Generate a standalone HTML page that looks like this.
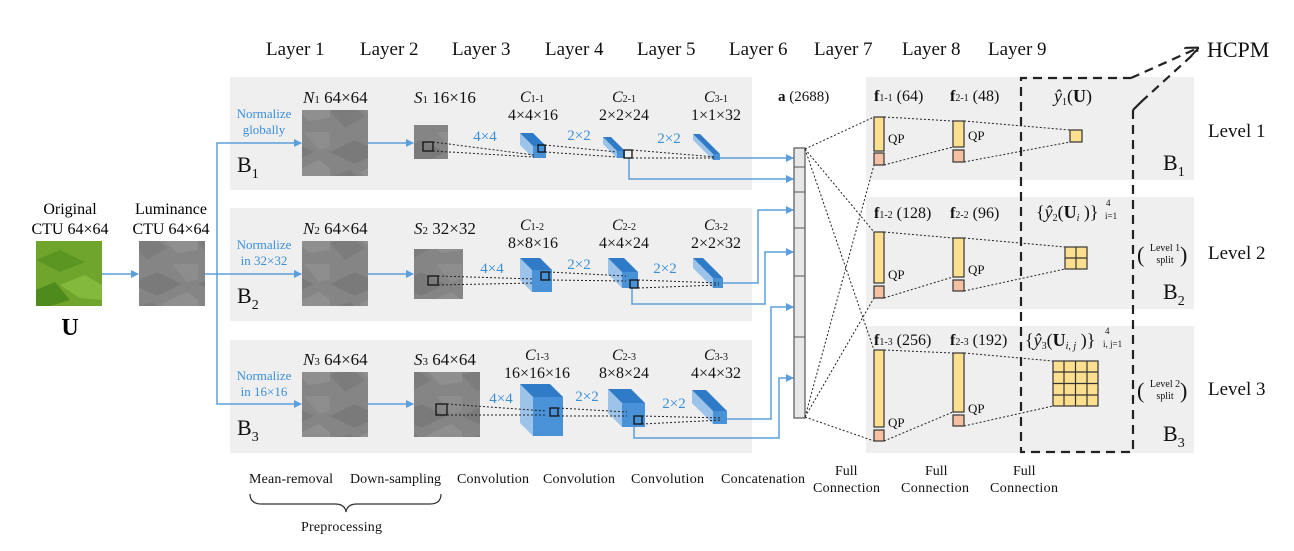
<!DOCTYPE html>
<html><head><meta charset="utf-8"><style>
html,body{margin:0;padding:0;background:#fff;}
svg{display:block;font-family:"Liberation Serif",serif;}
</style></head><body>
<svg width="1294" height="551" viewBox="0 0 1294 551" xmlns="http://www.w3.org/2000/svg">
<defs>
<marker id="ar" markerWidth="8" markerHeight="8" refX="7" refY="4" orient="auto" markerUnits="userSpaceOnUse"><path d="M0,0 L8,4 L0,8 z" fill="#5b9fdc"/></marker>
<marker id="ak" markerWidth="14" markerHeight="12" refX="13" refY="6" orient="auto" markerUnits="userSpaceOnUse"><path d="M0,0 L14,6 L0,12" fill="none" stroke="#222" stroke-width="2"/></marker>
<pattern id="gp" width="66" height="66" patternUnits="userSpaceOnUse">
<rect width="66" height="66" fill="#858585"/>
<polygon points="0,20 25,8 50,20 25,32" fill="#7a7a7a"/>
<polygon points="30,40 55,28 66,36 66,52 45,55" fill="#8f8f8f"/>
<polygon points="0,45 20,38 35,50 15,62" fill="#7c7c7c"/>
<polygon points="40,0 66,0 66,15 55,18" fill="#8d8d8d"/>
</pattern>
</defs>

<rect x="230" y="77" width="522" height="113" fill="#efefef"/>
<rect x="230" y="208" width="522" height="113" fill="#efefef"/>
<rect x="230" y="340" width="522" height="113" fill="#efefef"/>
<rect x="866" y="77" width="328" height="103" fill="#efefef"/>
<rect x="866" y="197" width="328" height="112" fill="#efefef"/>
<rect x="866" y="326" width="328" height="127" fill="#efefef"/>

<g font-size="19" fill="#111">
<text x="266" y="55">Layer 1</text><text x="360" y="55">Layer 2</text><text x="452" y="55">Layer 3</text>
<text x="545" y="55">Layer 4</text><text x="637" y="55">Layer 5</text><text x="729" y="55">Layer 6</text>
<text x="814" y="55">Layer 7</text><text x="902" y="55">Layer 8</text><text x="988" y="55">Layer 9</text>
<text x="1207" y="57" font-size="22">HCPM</text>
</g>

<text x="70" y="214" font-size="16" text-anchor="middle">Original</text>
<text x="70" y="234" font-size="16" text-anchor="middle">CTU 64×64</text>
<text x="171" y="214" font-size="16" text-anchor="middle">Luminance</text>
<text x="171" y="234" font-size="16" text-anchor="middle">CTU 64×64</text>
<rect x="36" y="241" width="66" height="65" fill="#6fa52c"/>
<polygon points="36,260 60,250 85,262 60,272" fill="#5c9622"/>
<polygon points="60,285 85,275 102,285 102,300 80,298" fill="#83b93c"/>
<polygon points="36,290 55,282 70,300 50,306 36,306" fill="#4f8a1c"/>
<rect x="139" y="241" width="66" height="65" fill="url(#gp)"/>
<text x="70" y="335" font-size="24" font-weight="bold" text-anchor="middle">U</text>

<g stroke="#5b9fdc" stroke-width="1.5" fill="none">
<line x1="102" y1="274" x2="138" y2="274" marker-end="url(#ar)"/>
<line x1="205" y1="274" x2="301" y2="274" marker-end="url(#ar)"/>
<polyline points="217,274 217,143 301,143" marker-end="url(#ar)"/>
<polyline points="217,274 217,404 301,404" marker-end="url(#ar)"/>
<line x1="368" y1="143" x2="413" y2="143" marker-end="url(#ar)"/>
<line x1="368" y1="274" x2="413" y2="274" marker-end="url(#ar)"/>
<line x1="368" y1="404" x2="413" y2="404" marker-end="url(#ar)"/>
<line x1="720" y1="158" x2="793" y2="158" marker-end="url(#ar)"/>
<polyline points="629,158 629,179 793,179" marker-end="url(#ar)"/>
<polyline points="723,283 758,283 758,210 793,210" marker-end="url(#ar)"/>
<polyline points="632,288 632,304 765,304 765,252 793,252" marker-end="url(#ar)"/>
<polyline points="727,419 771,419 771,307 793,307" marker-end="url(#ar)"/>
<polyline points="634,426 634,438 779,438 779,378 793,378" marker-end="url(#ar)"/>
</g>

<g font-size="13" fill="#3b8fd8" text-anchor="middle">
<text x="264" y="118">Normalize</text><text x="264" y="134">globally</text>
<text x="264" y="249">Normalize</text><text x="264" y="265">in 32×32</text>
<text x="264" y="380">Normalize</text><text x="264" y="396">in 16×16</text>
</g>

<g font-size="22" fill="#111">
<text x="237" y="172">B<tspan font-size="14" dy="6">1</tspan></text>
<text x="237" y="303">B<tspan font-size="14" dy="6">2</tspan></text>
<text x="237" y="435">B<tspan font-size="14" dy="6">3</tspan></text>
<text x="1163" y="170">B<tspan font-size="14" dy="6">1</tspan></text>
<text x="1163" y="299">B<tspan font-size="14" dy="6">2</tspan></text>
<text x="1163" y="441">B<tspan font-size="14" dy="6">3</tspan></text>
</g>

<g font-size="17" fill="#111">
<text x="303" y="103"><tspan font-style="italic">N</tspan><tspan font-size="11">1</tspan> 64×64</text>
<text x="303" y="234"><tspan font-style="italic">N</tspan><tspan font-size="11">2</tspan> 64×64</text>
<text x="303" y="365"><tspan font-style="italic">N</tspan><tspan font-size="11">3</tspan> 64×64</text>
<text x="414" y="103"><tspan font-style="italic">S</tspan><tspan font-size="11">1</tspan> 16×16</text>
<text x="414" y="234"><tspan font-style="italic">S</tspan><tspan font-size="11">2</tspan> 32×32</text>
<text x="414" y="365"><tspan font-style="italic">S</tspan><tspan font-size="11">3</tspan> 64×64</text>
</g>
<rect x="302" y="110" width="66" height="66" fill="url(#gp)"/>
<rect x="302" y="241" width="66" height="65" fill="url(#gp)"/>
<rect x="302" y="372" width="66" height="65" fill="url(#gp)"/>
<rect x="414" y="125" width="34" height="34" fill="url(#gp)"/>
<rect x="414" y="249" width="49" height="50" fill="url(#gp)"/>
<rect x="414" y="372" width="66" height="65" fill="url(#gp)"/>

<g>
<polygon points="533,146 520,133 520,145 533,158" fill="#9cc3ea"/><polygon points="533,146 546,146 533,133 520,133" fill="#2f7bc8"/><rect x="533" y="146" width="13" height="12" fill="#4a92d8"/>
<polygon points="617,151 603,137 603,144 617,158" fill="#9cc3ea"/><polygon points="617,151 625,151 611,137 603,137" fill="#2f7bc8"/><rect x="617" y="151" width="8" height="7" fill="#4a92d8"/>
<polygon points="713,154 693,134 693,140 713,160" fill="#9cc3ea"/><polygon points="713,154 720,154 700,134 693,134" fill="#2f7bc8"/><rect x="713" y="154" width="7" height="6" fill="#4a92d8"/>
<polygon points="532,270 520,258 520,280 532,292" fill="#9cc3ea"/><polygon points="532,270 552,270 540,258 520,258" fill="#2f7bc8"/><rect x="532" y="270" width="20" height="22" fill="#4a92d8"/>
<polygon points="622,272 608,258 608,274 622,288" fill="#9cc3ea"/><polygon points="622,272 638,272 624,258 608,258" fill="#2f7bc8"/><rect x="622" y="272" width="16" height="16" fill="#4a92d8"/>
<polygon points="713,278 693,258 693,268 713,288" fill="#9cc3ea"/><polygon points="713,278 723,278 703,258 693,258" fill="#2f7bc8"/><rect x="713" y="278" width="10" height="10" fill="#4a92d8"/>
<polygon points="533,397 520,384 520,423 533,436" fill="#9cc3ea"/><polygon points="533,397 563,397 550,384 520,384" fill="#2f7bc8"/><rect x="533" y="397" width="30" height="39" fill="#4a92d8"/>
<polygon points="622,403 608,389 608,413 622,427" fill="#9cc3ea"/><polygon points="622,403 645,403 631,389 608,389" fill="#2f7bc8"/><rect x="622" y="403" width="23" height="24" fill="#4a92d8"/>
<polygon points="713,411 692,390 692,403 713,424" fill="#9cc3ea"/><polygon points="713,411 727,411 706,390 692,390" fill="#2f7bc8"/><rect x="713" y="411" width="14" height="13" fill="#4a92d8"/>
</g>

<g fill="none" stroke="#111" stroke-width="1.3">
<rect x="423" y="142" width="10" height="9"/><rect x="538" y="145" width="7" height="7"/><rect x="624" y="150" width="8" height="8"/>
<rect x="428" y="276" width="10" height="9"/><rect x="541" y="272" width="8" height="8"/><rect x="630" y="280" width="8" height="8"/>
<rect x="436" y="404" width="11" height="11"/><rect x="550" y="408" width="8" height="8"/><rect x="634" y="416" width="8" height="8"/>
</g>
<g stroke="#222" stroke-width="1" stroke-dasharray="2,2" fill="none">
<line x1="433" y1="142" x2="534" y2="155"/><line x1="433" y1="151" x2="534" y2="157"/>
<line x1="545" y1="145" x2="617" y2="152"/><line x1="545" y1="152" x2="617" y2="157"/>
<line x1="632" y1="150" x2="716" y2="157"/><line x1="632" y1="158" x2="716" y2="158"/>
<line x1="438" y1="276" x2="534" y2="279"/><line x1="438" y1="285" x2="534" y2="283"/>
<line x1="549" y1="272" x2="626" y2="276"/><line x1="549" y1="280" x2="626" y2="281"/>
<line x1="638" y1="280" x2="719" y2="283"/><line x1="638" y1="288" x2="719" y2="285"/>
<line x1="447" y1="404" x2="546" y2="411"/><line x1="447" y1="415" x2="546" y2="415"/>
<line x1="558" y1="408" x2="627" y2="412"/><line x1="558" y1="416" x2="627" y2="416"/>
<line x1="642" y1="416" x2="722" y2="418"/><line x1="642" y1="424" x2="722" y2="420"/>
</g>

<g font-size="16" fill="#111" text-anchor="middle">
<text x="532" y="102"><tspan font-style="italic">C</tspan><tspan font-size="10">1-1</tspan></text><text x="533" y="120">4×4×16</text>
<text x="624" y="102"><tspan font-style="italic">C</tspan><tspan font-size="10">2-1</tspan></text><text x="624" y="120">2×2×24</text>
<text x="716" y="102"><tspan font-style="italic">C</tspan><tspan font-size="10">3-1</tspan></text><text x="716" y="120">1×1×32</text>
<text x="532" y="230"><tspan font-style="italic">C</tspan><tspan font-size="10">1-2</tspan></text><text x="533" y="248">8×8×16</text>
<text x="624" y="230"><tspan font-style="italic">C</tspan><tspan font-size="10">2-2</tspan></text><text x="624" y="248">4×4×24</text>
<text x="716" y="230"><tspan font-style="italic">C</tspan><tspan font-size="10">3-2</tspan></text><text x="716" y="248">2×2×32</text>
<text x="537" y="360"><tspan font-style="italic">C</tspan><tspan font-size="10">1-3</tspan></text><text x="537" y="378">16×16×16</text>
<text x="624" y="360"><tspan font-style="italic">C</tspan><tspan font-size="10">2-3</tspan></text><text x="624" y="378">8×8×24</text>
<text x="716" y="360"><tspan font-style="italic">C</tspan><tspan font-size="10">3-3</tspan></text><text x="716" y="378">4×4×32</text>
</g>
<text x="778" y="101" font-size="15" fill="#111"><tspan font-weight="bold">a</tspan> (2688)</text>
<g font-size="15" fill="#3b8fd8" text-anchor="middle">
<text x="485" y="141">4×4</text><text x="579" y="140">2×2</text><text x="669" y="143">2×2</text>
<text x="492" y="273">4×4</text><text x="579" y="269">2×2</text><text x="665" y="273">2×2</text>
<text x="501" y="403">4×4</text><text x="587" y="401">2×2</text><text x="674" y="408">2×2</text>
</g>

<rect x="794" y="148" width="11" height="270" fill="#e8e8e8" stroke="#555" stroke-width="1.2"/>
<g stroke="#555" stroke-width="1"><line x1="794" y1="167" x2="805" y2="167"/><line x1="794" y1="192" x2="805" y2="192"/><line x1="794" y1="228" x2="805" y2="228"/><line x1="794" y1="276" x2="805" y2="276"/><line x1="794" y1="337" x2="805" y2="337"/></g>

<g stroke="#222" stroke-width="1" stroke-dasharray="2,2" fill="none">
<line x1="805" y1="149" x2="874" y2="117"/><line x1="805" y1="149" x2="874" y2="232"/><line x1="805" y1="149" x2="874" y2="350"/>
<line x1="805" y1="417" x2="874" y2="165"/><line x1="805" y1="417" x2="874" y2="298"/><line x1="805" y1="417" x2="874" y2="441"/>
<line x1="884" y1="117" x2="953" y2="121"/><line x1="884" y1="165" x2="953" y2="147"/>
<line x1="964" y1="121" x2="1070" y2="130"/><line x1="964" y1="162" x2="1070" y2="142"/>
<line x1="884" y1="232" x2="953" y2="238"/><line x1="884" y1="298" x2="953" y2="277"/>
<line x1="964" y1="238" x2="1065" y2="247"/><line x1="964" y1="291" x2="1065" y2="269"/>
<line x1="884" y1="350" x2="953" y2="353"/><line x1="884" y1="441" x2="953" y2="412"/>
<line x1="964" y1="353" x2="1053" y2="361"/><line x1="964" y1="426" x2="1053" y2="406"/>
</g>

<g stroke="#333" stroke-width="1.2">
<rect x="874" y="117" width="10" height="34" fill="#fde08f"/><rect x="874" y="153" width="10" height="12" fill="#f6c1a3"/>
<rect x="953" y="121" width="11" height="26" fill="#fde08f"/><rect x="953" y="150" width="11" height="12" fill="#f6c1a3"/>
<rect x="1070" y="130" width="12" height="12" fill="#fde08f"/>
<rect x="874" y="232" width="10" height="51" fill="#fde08f"/><rect x="874" y="286" width="10" height="12" fill="#f6c1a3"/>
<rect x="953" y="238" width="11" height="39" fill="#fde08f"/><rect x="953" y="280" width="11" height="11" fill="#f6c1a3"/>
<rect x="874" y="350" width="10" height="77" fill="#fde08f"/><rect x="874" y="430" width="10" height="11" fill="#f6c1a3"/>
<rect x="953" y="353" width="11" height="59" fill="#fde08f"/><rect x="953" y="415" width="11" height="11" fill="#f6c1a3"/>
<rect x="1065" y="247" width="22" height="22" fill="#fde08f"/>
<line x1="1076" y1="247" x2="1076" y2="269"/><line x1="1065" y1="258" x2="1087" y2="258"/>
<rect x="1053" y="361" width="45" height="45" fill="#fde08f"/>
<line x1="1064" y1="361" x2="1064" y2="406"/><line x1="1075.5" y1="361" x2="1075.5" y2="406"/><line x1="1087" y1="361" x2="1087" y2="406"/>
<line x1="1053" y1="372" x2="1098" y2="372"/><line x1="1053" y1="383.5" x2="1098" y2="383.5"/><line x1="1053" y1="395" x2="1098" y2="395"/>
</g>
<g font-size="13" fill="#111">
<text x="888" y="143">QP</text><text x="968" y="140">QP</text>
<text x="888" y="279">QP</text><text x="968" y="274">QP</text>
<text x="888" y="427">QP</text><text x="968" y="413">QP</text>
</g>
<g font-size="16" fill="#111">
<text x="874" y="101"><tspan font-weight="bold">f</tspan><tspan font-size="10">1-1</tspan> (64)</text>
<text x="950" y="101"><tspan font-weight="bold">f</tspan><tspan font-size="10">2-1</tspan> (48)</text>
<text x="874" y="218"><tspan font-weight="bold">f</tspan><tspan font-size="10">1-2</tspan> (128)</text>
<text x="950" y="218"><tspan font-weight="bold">f</tspan><tspan font-size="10">2-2</tspan> (96)</text>
<text x="874" y="345"><tspan font-weight="bold">f</tspan><tspan font-size="10">1-3</tspan> (256)</text>
<text x="950" y="345"><tspan font-weight="bold">f</tspan><tspan font-size="10">2-3</tspan> (192)</text>
</g>
<g font-size="18" fill="#111">
<text x="1054" y="102"><tspan font-style="italic">ŷ</tspan><tspan font-size="10" dy="3">1</tspan><tspan dy="-3">(</tspan><tspan font-weight="bold">U</tspan>)</text>
<text x="1036" y="218">{<tspan font-style="italic">ŷ</tspan><tspan font-size="10" dy="3">2</tspan><tspan dy="-3">(</tspan><tspan font-weight="bold">U</tspan><tspan font-size="10" font-style="italic" dy="3">i</tspan><tspan dy="-3"> )}</tspan></text>
<text x="1025" y="346">{<tspan font-style="italic">ŷ</tspan><tspan font-size="10" dy="3">3</tspan><tspan dy="-3">(</tspan><tspan font-weight="bold">U</tspan><tspan font-size="10" font-style="italic" dy="3">i, j</tspan><tspan dy="-3"> )}</tspan></text>
</g>
<g font-size="9" fill="#111">
<text x="1106" y="206">4</text><text x="1105" y="219">i=1</text>
<text x="1105" y="334">4</text><text x="1103" y="347">i, j=1</text>
</g>

<g font-size="19" fill="#111">
<text x="1208" y="137">Level 1</text><text x="1208" y="259">Level 2</text><text x="1208" y="395">Level 3</text>
</g>
<g fill="#111">
<text x="1137" y="262" font-size="22">(</text><text x="1180" y="262" font-size="22">)</text>
<text x="1165" y="251" font-size="10" text-anchor="middle">Level 1</text><text x="1165" y="263" font-size="10" text-anchor="middle">split</text>
<text x="1137" y="398" font-size="22">(</text><text x="1180" y="398" font-size="22">)</text>
<text x="1165" y="387" font-size="10" text-anchor="middle">Level 2</text><text x="1165" y="399" font-size="10" text-anchor="middle">split</text>
</g>

<g stroke="#222" stroke-width="2.2" stroke-dasharray="9,6" fill="none">
<polyline points="1133,110 1133,452 1021,452 1021,78 1131,78"/>
<line x1="1131" y1="78" x2="1198" y2="48" marker-end="url(#ak)"/>
<line x1="1141" y1="102" x2="1198" y2="50"/>
</g>
<line x1="1133" y1="110" x2="1141" y2="102" stroke="#222" stroke-width="2.2"/>

<g font-size="14" fill="#111">
<text x="249" y="483" textLength="84">Mean-removal</text>
<text x="350" y="483" textLength="91">Down-sampling</text>
<text x="457" y="483" textLength="72">Convolution</text>
<text x="543" y="483" textLength="72">Convolution</text>
<text x="631" y="483" textLength="73">Convolution</text>
<text x="721" y="483" textLength="84">Concatenation</text>
<text x="835" y="475">Full</text><text x="813" y="492" textLength="67">Connection</text>
<text x="925" y="475">Full</text><text x="901" y="492" textLength="68">Connection</text>
<text x="1013" y="475">Full</text><text x="990" y="492" textLength="68">Connection</text>
<text x="301" y="531" textLength="81">Preprocessing</text>
</g>
<path d="M250,494 Q250,504 262,504 L335,504 Q345,504 346,512 Q347,504 357,504 L430,504 Q441,504 441,494" fill="none" stroke="#333" stroke-width="1.2"/>
</svg>
</body></html>
